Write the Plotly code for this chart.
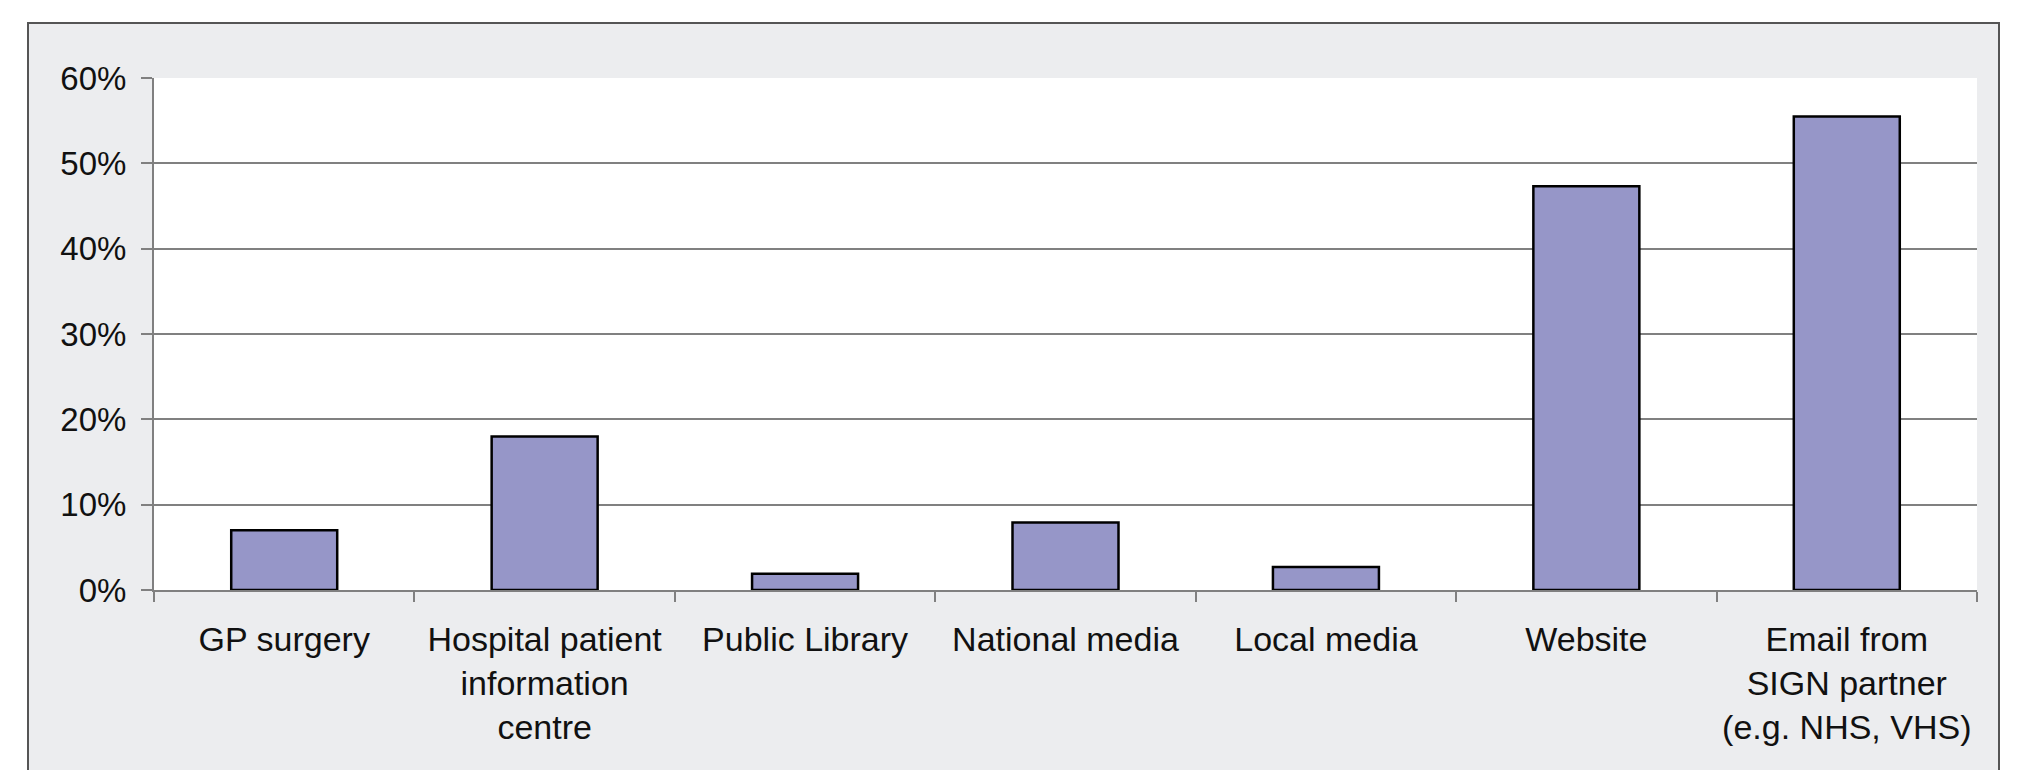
import plotly.graph_objects as go

categories = [
    "GP surgery",
    "Hospital patient<br>information<br>centre",
    "Public Library",
    "National media",
    "Local media",
    "Website",
    "Email from<br>SIGN partner<br>(e.g. NHS, VHS)",
]
values = [7.0, 18.0, 1.9, 7.9, 2.7, 47.3, 55.5]
y_ticks = [0, 10, 20, 30, 40, 50, 60]
y_tick_labels = [f"{v}%" for v in y_ticks]

W, H = 2024, 770
L, R, T, B = 154, 1977, 78, 590

fig = go.Figure(
    go.Bar(
        x=categories,
        y=values,
        marker=dict(color="#9696C8", line=dict(color="#000000", width=2.5)),
        hoverinfo="skip",
    )
)

pw, ph = R - L, B - T
def px(x):
    return (x - L) / pw
def py(y):
    return (B - y) / ph

fig.update_layout(
    width=W,
    height=H,
    margin=dict(l=L, r=W - R, t=T, b=H - B, pad=0),
    paper_bgcolor="#FFFFFF",
    plot_bgcolor="#FFFFFF",
    bargap=0.593,
    showlegend=False,
    font=dict(family="Liberation Sans, Arial, sans-serif", size=33, color="#111111"),
    shapes=[
        dict(type="rect", xref="paper", yref="paper",
             x0=px(28), x1=px(1999), y0=py(800), y1=py(23),
             fillcolor="#ECEDEF", line=dict(color="#555555", width=2), layer="below"),
        dict(type="rect", xref="paper", yref="paper",
             x0=0, x1=1, y0=0, y1=1,
             fillcolor="#FFFFFF", line=dict(width=0), layer="below"),
    ],
)

fig.update_xaxes(
    type="category",
    showline=True,
    linecolor="#808080",
    linewidth=2,
    ticks="outside",
    tickson="boundaries",
    ticklen=10,
    tickwidth=1.5,
    tickcolor="#808080",
    showgrid=False,
    ticklabelstandoff=18,
    tickfont=dict(size=34, color="#111111"),
)
fig.update_yaxes(
    range=[0, 60],
    tickvals=y_ticks,
    ticktext=y_tick_labels,
    showline=True,
    linecolor="#808080",
    linewidth=2,
    ticks="outside",
    ticklen=11,
    tickwidth=2,
    tickcolor="#808080",
    showgrid=True,
    gridcolor="#808080",
    gridwidth=2,
    zeroline=False,
    ticklabelstandoff=8,
    tickfont=dict(size=33, color="#111111"),
)

fig.write_html("out.html")
